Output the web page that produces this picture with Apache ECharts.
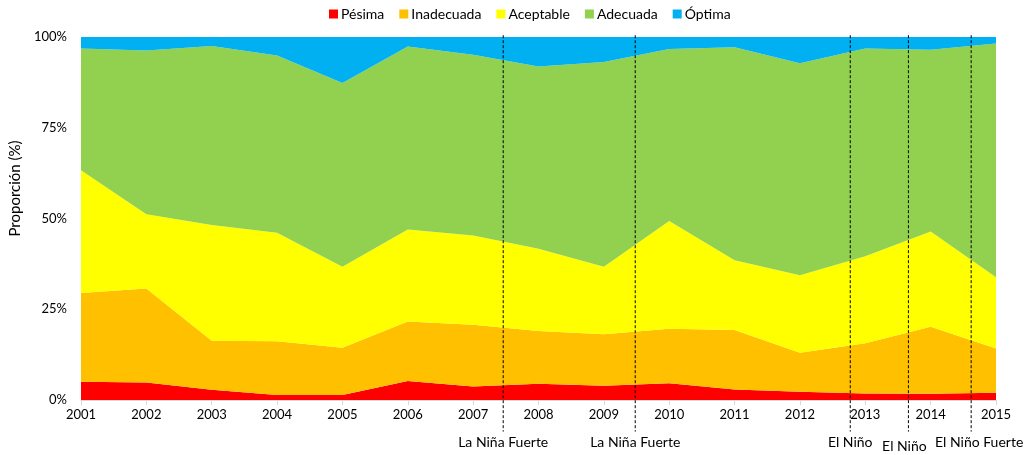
<!DOCTYPE html>
<html>
<head>
<meta charset="utf-8">
<script src="https://cdn.jsdelivr.net/npm/echarts@6/dist/echarts.min.js"></script>
<style>
html,body{margin:0;padding:0;background:#fff;}
#chart{width:1024px;height:455px;}
</style>
</head>
<body>
<div id="chart"></div>
<script>
// ---- Data ----
var years = ['2001','2002','2003','2004','2005','2006','2007','2008','2009','2010','2011','2012','2013','2014','2015'];
var pesima     = [5.0,4.8,2.8,1.4,1.4,5.2,3.7,4.5,3.9,4.6,2.9,2.3,1.8,1.7,2.0];
var inadecuada = [24.5,25.9,13.5,14.8,13.0,16.4,17.0,14.5,14.2,15.0,16.4,10.7,13.8,18.5,12.2];
var aceptable  = [33.8,20.5,31.9,29.9,22.3,25.4,24.6,22.7,18.6,29.7,19.2,21.4,24.0,26.2,19.6];
var adecuada   = [33.5,45.1,49.3,48.8,50.6,50.4,49.8,50.2,56.4,47.4,58.7,58.4,57.2,50.1,64.4];
var optima     = [3.2,3.7,2.5,5.1,12.7,2.6,4.9,8.1,6.9,3.3,2.8,7.2,3.2,3.5,1.8];
var seriesNames = ['Pésima','Inadecuada','Aceptable','Adecuada','Óptima'];
var yTicks = [0,25,50,75,100];
var eventX = [2007.46, 2009.48, 2012.77, 2013.66, 2014.62];
var eventLabels = ['La Niña Fuerte','La Niña Fuerte','El Niño','El Niño','El Niño Fuerte'];

// ---- Styles ----
var colors = ['#FF0000','#FFC000','#FFFF00','#92D050','#00B0F0'];
var FONT = 'Lato, "Open Sans", sans-serif';
var labelOffsets = [[0,0],[0,0],[0,0],[-4,4],[8,0]];

var values = [pesima, inadecuada, aceptable, adecuada, optima];
var series = values.map(function(vals, k){
  return {
    name: seriesNames[k],
    type: 'line',
    stack: 'total',
    symbol: 'none',
    xAxisIndex: 0,
    lineStyle: {width: 0},
    itemStyle: {color: colors[k]},
    areaStyle: {color: colors[k], opacity: 1},
    data: vals,
    z: 2
  };
});

series.push({
  type: 'custom',
  name: 'events',
  xAxisIndex: 1,
  clip: false,
  silent: true,
  z: 10,
  encode: {x: 0, y: 1},
  data: eventX.map(function(x, i){ return [x, 0, i]; }),
  renderItem: function(params, api){
    var x = api.value(0);
    var idx = api.value(2);
    var top = api.coord([x, 100.5]);
    var bot = api.coord([x, -8.7]);
    var lab = api.coord([x, -11.7]);
    var off = labelOffsets[idx];
    return {
      type: 'group',
      children: [
        {type: 'line', shape: {x1: top[0], y1: top[1], x2: bot[0], y2: bot[1]},
         style: {stroke: '#000', lineWidth: 1, lineDash: [3, 2]}},
        {type: 'text', x: lab[0] + off[0], y: lab[1] + off[1],
         style: {text: eventLabels[idx], fill: '#000', font: '14px ' + FONT,
                 align: 'center', verticalAlign: 'middle'}}
      ]
    };
  }
});

var chart = echarts.init(document.getElementById('chart'), null, {renderer: 'canvas'});
chart.setOption({
  animation: false,
  backgroundColor: '#fff',
  textStyle: {fontFamily: FONT},
  legend: {
    data: seriesNames,
    top: 2,
    left: 324,
    itemWidth: 9,
    itemHeight: 9,
    itemGap: 15,
    icon: 'rect',
    textStyle: {fontSize: 14, color: '#000', fontFamily: FONT, padding: [0,0,0,-2]}
  },
  grid: {left: 81, right: 28, top: 37, bottom: 55, containLabel: false},
  xAxis: [{
    type: 'category',
    data: years,
    boundaryGap: false,
    axisLine: {show: true, lineStyle: {color: '#d9d9d9'}},
    axisTick: {show: true, length: 5, lineStyle: {color: '#d9d9d9'}},
    splitLine: {show: false},
    axisLabel: {color: '#000', fontSize: 13, fontFamily: FONT, margin: 8}
  }, {
    type: 'value',
    min: 2001,
    max: 2015,
    show: false
  }],
  yAxis: {
    type: 'value',
    min: 0,
    max: 100,
    interval: 25,
    name: 'Proporción (%)',
    nameLocation: 'middle',
    nameRotate: 90,
    nameGap: 55,
    nameTextStyle: {fontSize: 15, color: '#000', fontFamily: FONT, padding: [0,0,0,60]},
    axisLine: {show: false},
    axisTick: {show: false},
    splitLine: {show: false},
    axisLabel: {color: '#000', fontSize: 13, fontFamily: FONT, margin: 14,
                formatter: function(v){ return yTicks.indexOf(v) >= 0 ? v + '%' : ''; }}
  },
  series: series
});
</script>
</body>
</html>
